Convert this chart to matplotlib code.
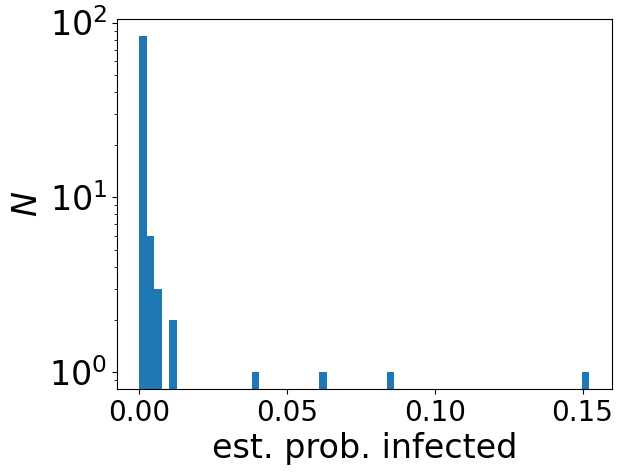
import numpy as np
import matplotlib
matplotlib.use('Agg')
import matplotlib.pyplot as plt

# histogram: 60 equal bins between min and max value
x_min = 0.0
x_max = 0.1523
n_bins = 60
bin_index = [0, 1, 2, 4, 15, 24, 33, 59]
bin_count = [84, 6, 3, 2, 1, 1, 1, 1]

edges = np.linspace(x_min, x_max, n_bins + 1)
centers = (edges[:-1] + edges[1:]) / 2

fig = plt.figure(figsize=(6.24, 4.75), dpi=100)
ax = fig.add_axes([0.1875, 0.181, 0.793, 0.779])

ax.hist(centers[bin_index], bins=edges, weights=bin_count, color='#1f77b4')
ax.set_yscale('log')

ax.set_xlabel('est. prob. infected', fontsize=24)
ax.set_ylabel('$N$', fontsize=24)
ax.tick_params(axis='x', labelsize=20)
ax.tick_params(axis='y', labelsize=24)

fig.savefig('out.png', dpi=100)
